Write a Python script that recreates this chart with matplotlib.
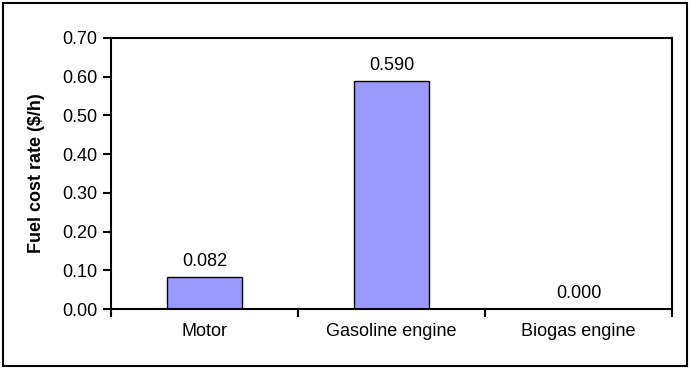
import matplotlib.pyplot as plt
from matplotlib.patches import Rectangle

plt.rcParams['font.family'] = ['Liberation Sans', 'DejaVu Sans']

categories = ["Motor", "Gasoline engine", "Biogas engine"]
fuel_cost = [0.082, 0.590, 0.000]
value_labels = ["0.082", "0.590", "0.000"]
y_ticks = [0.0, 0.1, 0.2, 0.3, 0.4, 0.5, 0.6, 0.7]

fig = plt.figure(figsize=(6.91, 3.70), dpi=100)
ax = fig.add_axes([111/691, 1 - 309/370, (672 - 111)/691, (309 - 38)/370])

x = list(range(len(categories)))
ax.bar(x, fuel_cost, width=0.4, color="#9999FF", edgecolor="black", linewidth=1.0)

for xi, v, lab in zip(x, fuel_cost, value_labels):
    ax.annotate(lab, (xi, v), xytext=(0, 5), textcoords="offset points",
                ha="center", va="bottom", fontsize=13)

ax.set_xlim(-0.5, len(categories) - 0.5)
ax.set_ylim(0, 0.7)
ax.set_yticks(y_ticks)
ax.set_yticklabels([f"{t:.2f}" for t in y_ticks], fontsize=13)

# category boundary ticks, labels centred between them
ax.set_xticks([i - 0.5 for i in range(len(categories) + 1)])
ax.set_xticklabels([])
ax.set_xticks(x, minor=True)
ax.set_xticklabels(categories, minor=True, fontsize=13)
ax.tick_params(axis="x", which="minor", length=0, pad=10)
ax.tick_params(axis="x", which="major", length=6, width=1.5, direction="out")
ax.tick_params(axis="y", length=6, width=1.5, direction="out", pad=4)

for s in ax.spines.values():
    s.set_linewidth(1.5)

ax.set_ylabel("Fuel cost rate ($/h)", fontsize=13, fontweight="bold", labelpad=12)

# outer chart border
fig.patches.append(Rectangle((3/691, 4/370), 684/691, 363/370, transform=fig.transFigure,
                             fill=False, edgecolor="black", linewidth=1.5))

fig.savefig("out.png", dpi=100)
